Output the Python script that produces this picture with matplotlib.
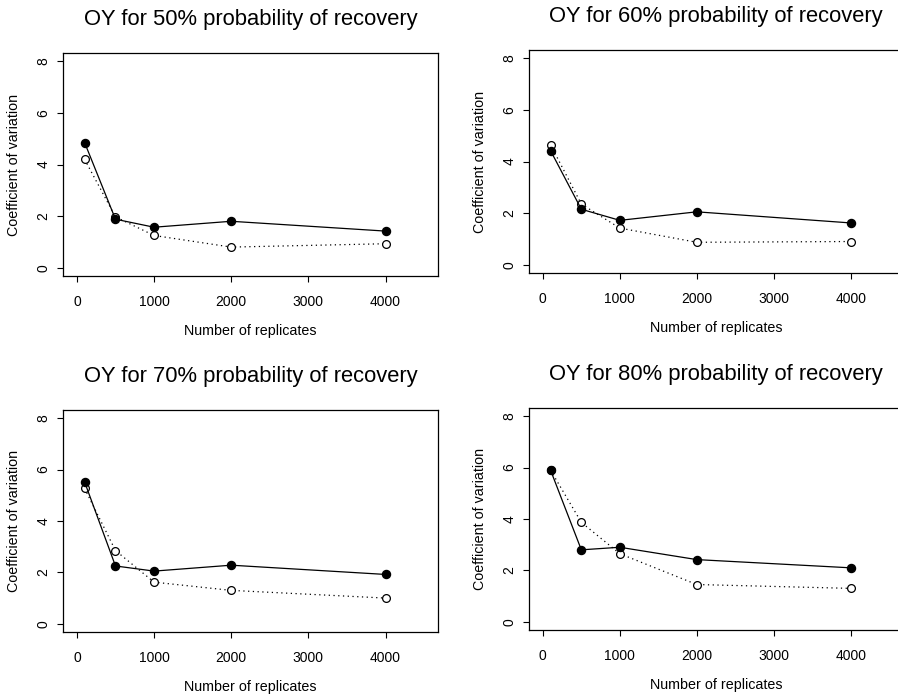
import matplotlib.pyplot as plt

plt.rcParams["font.family"] = ["Liberation Sans", "DejaVu Sans"]

replicates = [100, 500, 1000, 2000, 4000]
probabilities = ["50%", "60%", "70%", "80%"]

# filled circles, solid line
cv_solid = {
    "50%": [4.85, 1.88, 1.57, 1.80, 1.42],
    "60%": [4.42, 2.15, 1.72, 2.05, 1.62],
    "70%": [5.52, 2.25, 2.05, 2.28, 1.92],
    "80%": [5.90, 2.80, 2.90, 2.42, 2.10],
}
# open circles, dotted line
cv_dotted = {
    "50%": [4.20, 1.97, 1.25, 0.80, 0.93],
    "60%": [4.65, 2.35, 1.42, 0.87, 0.90],
    "70%": [5.27, 2.85, 1.62, 1.30, 1.00],
    "80%": [5.90, 3.87, 2.65, 1.45, 1.30],
}

x_ticks = [0, 1000, 2000, 3000, 4000]
y_ticks = [0, 2, 4, 6, 8]

W, H = 898, 698
# panel boxes in pixels: left, top, right, bottom
boxes = {
    "50%": (63, 53, 438, 276),
    "60%": (529, 50, 903, 273),
    "70%": (63, 410, 438, 632),
    "80%": (529, 408, 903, 630),
}

fig = plt.figure(figsize=(W / 100, H / 100), dpi=100)

for p in probabilities:
    l, t, r, b = boxes[p]
    ax = fig.add_axes([l / W, (H - b) / H, (r - l) / W, (b - t) / H])

    ax.plot(replicates, cv_dotted[p], color="black", lw=0.9,
            linestyle=(0, (1, 2.8)), marker="o", markersize=5.6,
            markerfacecolor="white", markeredgecolor="black",
            markeredgewidth=0.9)
    ax.plot(replicates, cv_solid[p], color="black", lw=0.9,
            linestyle="-", marker="o", markersize=5.8,
            markerfacecolor="black", markeredgecolor="black")

    ax.set_xlim(-180, 4680)
    ax.set_ylim(-0.32, 8.32)
    ax.set_xticks(x_ticks)
    ax.set_yticks(y_ticks)
    ax.set_yticklabels([str(v) for v in y_ticks], rotation=90, va="center")
    ax.tick_params(direction="out", length=4.5, width=0.8, labelsize=10,
                   colors="black")
    ax.tick_params(axis="x", pad=9)
    ax.tick_params(axis="y", pad=4.5)
    for s in ax.spines.values():
        s.set_linewidth(0.9)

    ax.set_title(f"OY for {p} probability of recovery", fontsize=15.8, pad=20)
    ax.set_xlabel("Number of replicates", fontsize=10.3, labelpad=11)
    ax.set_ylabel("Coefficient of variation", fontsize=10.3, labelpad=11)

fig.savefig("out.png", dpi=100, facecolor="white")
